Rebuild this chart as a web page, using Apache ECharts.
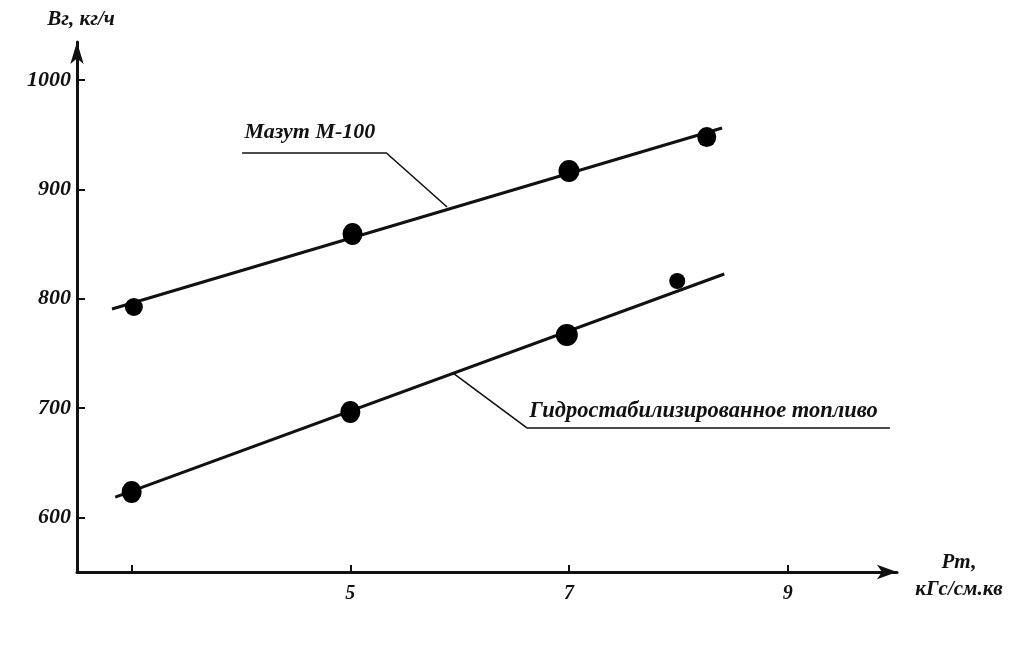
<!DOCTYPE html>
<html>
<head>
<meta charset="utf-8">
<script src="https://cdn.jsdelivr.net/npm/echarts@6/dist/echarts.min.js"></script>
<style>
html,body{margin:0;padding:0;background:#fff;}
#chart{width:1024px;height:647px;}
</style>
</head>
<body>
<div id="chart"></div>
<script>
// ---- data ----
const xTickValues = [3, 5, 7, 9];
const xLabelValues = [5, 7, 9];
const yTickValues = [600, 700, 800, 900, 1000];

const mazutName = 'Мазут М-100';
const mazutX = [3.02, 5.02, 7.0, 8.26];
const mazutY = [792.5, 859.3, 916.9, 948];
const mazutFitX = [2.82, 8.40];
const mazutFitY = [790.7, 956.3];

const hydroName = 'Гидростабилизированное топливо';
const hydroX = [3.0, 5.0, 6.98, 7.99];
const hydroY = [623.2, 696.4, 766.9, 816.3];
const hydroFitX = [2.85, 8.42];
const hydroFitY = [618.6, 822.7];

// callout leader lines (data coordinates) and label anchors
const mazutLeaderX = [4.01, 5.33, 5.885];
const mazutLeaderY = [933.4, 933.4, 884];
const mazutLabelAt = [4.63, 952.6];
const hydroLeaderX = [5.94, 6.615, 9.935];
const hydroLeaderY = [732, 681.8, 681.8];
const hydroLabelAt = [8.23, 697.3];

const yAxisTitle = 'Вг, кг/ч';
const xAxisTitleLines = ['Рт,', 'кГс/см.кв'];

// ---- helpers ----
const zip = (xs, ys) => xs.map((x, i) => [x, ys[i]]);
const FONT = '"Liberation Serif", "DejaVu Serif", serif';
const INK = '#111';
const txt = (size) => ({ fontFamily: FONT, fontWeight: 'bold', fontStyle: 'italic', fontSize: size, color: INK });

const mazutSizes = [[18, 18], [20, 22], [21, 22], [19, 20]];
const hydroSizes = [[20, 22], [20, 22], [22, 22], [16, 16]];

const chart = echarts.init(document.getElementById('chart'), null, { renderer: 'canvas' });

chart.setOption({
  backgroundColor: '#fff',
  animation: false,
  grid: { left: 77, right: 127, top: 42, bottom: 75 },
  xAxis: {
    type: 'value', min: 2.5, max: 10,
    name: '{s|}\n' + xAxisTitleLines.join('\n'), nameLocation: 'end', nameGap: 62,
    nameTextStyle: Object.assign(txt(21), { align: 'center', verticalAlign: 'middle', lineHeight: 27,
      rich: { s: { fontSize: 1, lineHeight: 9 } } }),
    axisLine: { show: true, onZero: false, symbol: ['none', 'arrow'], symbolSize: [11, 20], symbolOffset: [0, 0], lineStyle: { color: INK, width: 3 } },
    axisTick: { show: true, inside: true, length: 7, customValues: xTickValues, lineStyle: { color: INK, width: 2 } },
    axisLabel: Object.assign(txt(20), { customValues: xLabelValues, margin: 12, formatter: v => String(v) }),
    splitLine: { show: false }
  },
  yAxis: {
    type: 'value', min: 550, max: 1035,
    name: yAxisTitle, nameLocation: 'end', nameGap: 12,
    nameTextStyle: Object.assign(txt(21), { align: 'center', padding: [0, 0, 0, 8] }),
    axisLine: { show: true, onZero: false, symbol: ['none', 'arrow'], symbolSize: [10, 22], symbolOffset: [0, 0], lineStyle: { color: INK, width: 3 } },
    axisTick: { show: true, inside: true, length: 8, customValues: yTickValues, lineStyle: { color: INK, width: 2 } },
    axisLabel: Object.assign(txt(22), { customValues: yTickValues, margin: 6, formatter: v => String(v) }),
    splitLine: { show: false }
  },
  series: [
    { type: 'line', data: zip(mazutFitX, mazutFitY), symbol: 'none', lineStyle: { color: INK, width: 3 }, z: 2 },
    { type: 'line', data: zip(hydroFitX, hydroFitY), symbol: 'none', lineStyle: { color: INK, width: 3 }, z: 2 },
    { type: 'line', data: zip(mazutLeaderX, mazutLeaderY), symbol: 'none', lineStyle: { color: INK, width: 1.6 }, z: 2 },
    { type: 'line', data: zip(hydroLeaderX, hydroLeaderY), symbol: 'none', lineStyle: { color: INK, width: 1.6 }, z: 2 },
    { name: mazutName, type: 'scatter', data: zip(mazutX, mazutY),
      symbolSize: (v, p) => mazutSizes[p.dataIndex], itemStyle: { color: '#000', opacity: 1 }, z: 3 },
    { name: hydroName, type: 'scatter', data: zip(hydroX, hydroY),
      symbolSize: (v, p) => hydroSizes[p.dataIndex], itemStyle: { color: '#000', opacity: 1 }, z: 3 },
    { type: 'scatter', symbolSize: 1, silent: true, z: 4,
      itemStyle: { color: 'rgba(0,0,0,0)', opacity: 1 },
      data: [
        { value: mazutLabelAt, label: Object.assign(txt(22), { show: true, position: 'inside', formatter: mazutName }) },
        { value: hydroLabelAt, label: Object.assign(txt(22.5), { show: true, position: 'inside', formatter: hydroName }) }
      ] }
  ]
});
</script>
</body>
</html>
